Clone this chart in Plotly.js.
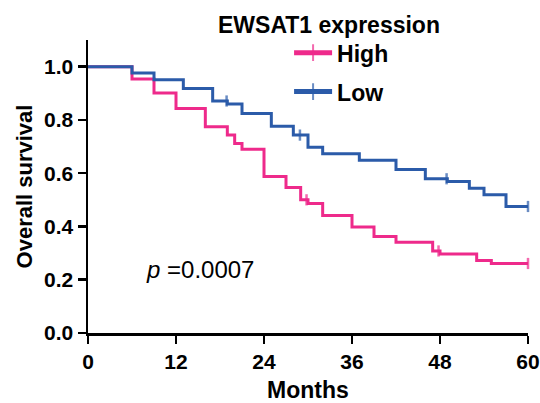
<!DOCTYPE html>
<html>
<head>
<meta charset="utf-8">
<script src="https://cdn.plot.ly/plotly-3.0.1.min.js"></script>
<style>html,body{margin:0;padding:0;background:#fff;}#chart{width:540px;height:403px;}</style>
</head>
<body>
<div id="chart"></div>
<script>
// Kaplan-Meier step data
var highTimes = [0, 6, 9, 12, 16, 19, 20, 21, 24, 27, 29, 30, 32, 36, 39, 42, 47, 48, 53, 55, 60];
var highSurv  = [1.0, 0.954, 0.901, 0.843, 0.774, 0.743, 0.711, 0.690, 0.588, 0.546, 0.500, 0.486, 0.441, 0.398, 0.362, 0.341, 0.308, 0.297, 0.272, 0.261, 0.261];
var highCensor = [29.8, 47.8, 60];

var lowTimes = [0, 6, 9, 13, 17, 19, 21, 25, 28, 30, 32, 37, 42, 46, 49, 52, 54, 57, 60];
var lowSurv  = [1.0, 0.976, 0.951, 0.918, 0.871, 0.860, 0.824, 0.776, 0.743, 0.697, 0.673, 0.649, 0.614, 0.579, 0.569, 0.543, 0.519, 0.475, 0.475];
var lowCensor = [18.9, 28.9, 48.9, 60];

var xTicks = [0, 12, 24, 36, 48, 60];
var yTicks = [0, 0.2, 0.4, 0.6, 0.8, 1.0];

var PINK = '#EE2A8B';
var BLUE = '#2B5BA9';

function survAt(times, surv, t) {
  var v = surv[0];
  for (var i = 0; i < times.length; i++) { if (times[i] <= t) v = surv[i]; }
  return v;
}

function buildTrace(name, times, surv, censor, color) {
  var pts = [];
  for (var i = 0; i < times.length; i++) pts.push({x: times[i], y: surv[i], c: false});
  for (var j = 0; j < censor.length; j++) pts.push({x: censor[j], y: survAt(times, surv, censor[j]), c: true});
  pts.sort(function (a, b) { return a.x - b.x || (a.c - b.c); });
  return {
    type: 'scatter',
    mode: 'lines+markers',
    name: name,
    legendgroup: name,
    x: pts.map(function (p) { return p.x; }),
    y: pts.map(function (p) { return p.y; }),
    line: {shape: 'hv', color: color, width: 3},
    marker: {
      symbol: 'line-ns-open',
      size: pts.map(function (p) { return p.c ? 8 : 0; }),
      color: color,
      line: {color: color, width: 2.5}
    },
    cliponaxis: false,
    hoverinfo: 'skip'
  };
}

var data = [
  buildTrace('High', highTimes, highSurv, highCensor, PINK),
  buildTrace('Low', lowTimes, lowSurv, lowCensor, BLUE)
];

var FONT = 'Liberation Sans, Arial, Helvetica, sans-serif';

var layout = {
  width: 540,
  height: 403,
  margin: {l: 88, r: 12, t: 40, b: 70},
  paper_bgcolor: '#fff',
  plot_bgcolor: '#fff',
  showlegend: true,
  legend: {
    x: 0.457, xanchor: 'left',
    y: 1.03, yanchor: 'top',
    font: {family: FONT, size: 23, color: '#000', weight: 700},
    tracegroupgap: 6,
    itemwidth: 38,
    itemsizing: 'constant',
    bgcolor: 'rgba(0,0,0,0)'
  },
  xaxis: {
    range: [0, 60],
    tickvals: xTicks,
    ticktext: xTicks.map(String),
    showline: true, linecolor: '#000', linewidth: 2.5,
    ticks: 'outside', ticklen: 8, tickwidth: 2.5, tickcolor: '#000',
    showgrid: false, zeroline: false,
    tickfont: {family: FONT, size: 21, color: '#000', weight: 700},
    title: {text: 'Months', font: {family: FONT, size: 23, color: '#000', weight: 700}, standoff: 13}
  },
  yaxis: {
    range: [0, 1.1],
    tickvals: yTicks,
    ticktext: yTicks.map(function (v) { return v.toFixed(1); }),
    showline: true, linecolor: '#000', linewidth: 2.5,
    ticks: 'outside', ticklen: 8, tickwidth: 2.5, tickcolor: '#000',
    showgrid: false, zeroline: false,
    tickfont: {family: FONT, size: 21, color: '#000', weight: 700},
    title: {text: 'Overall survival', font: {family: FONT, size: 22, color: '#000', weight: 700}, standoff: 6}
  },
  annotations: [
    {
      text: 'EWSAT1 expression',
      xref: 'paper', yref: 'paper',
      x: 0.548, y: 1.051, xanchor: 'center', yanchor: 'middle',
      showarrow: false,
      font: {family: FONT, size: 23, color: '#000', weight: 700}
    },
    {
      text: '<i>p</i> =0.0007',
      xref: 'x', yref: 'y',
      x: 15.3, y: 0.237, xanchor: 'center', yanchor: 'middle',
      showarrow: false,
      font: {family: FONT, size: 24, color: '#000'}
    }
  ]
};

Plotly.newPlot('chart', data, layout, {displayModeBar: false, staticPlot: true});
</script>
</body>
</html>
